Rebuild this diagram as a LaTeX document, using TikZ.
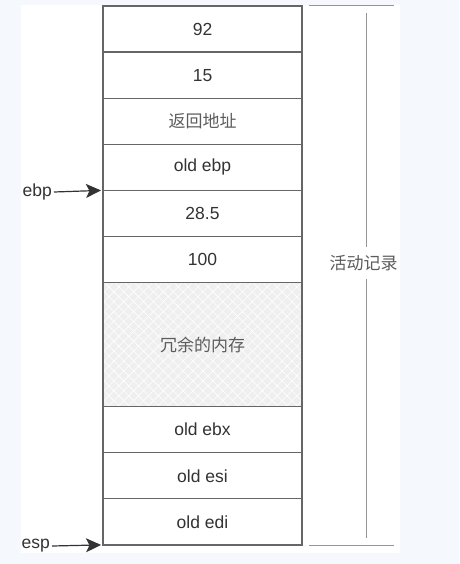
\documentclass[tikz,border=0pt]{standalone}
\usepackage{fontspec}
\setmainfont{Liberation Sans}
\newfontfamily\cjk{Noto Sans CJK SC}
\usetikzlibrary{positioning,arrows.meta,patterns.meta}
\definecolor{pagebg}{HTML}{F5F9FD}
\definecolor{cellline}{HTML}{666666}
\definecolor{celltext}{HTML}{333333}
\definecolor{spare}{HTML}{EFEFEF}
\begin{document}
\begin{tikzpicture}[x=1pt, y=-1pt, node distance=0pt,
  cell/.style = {draw=cellline, line width=1.2pt, fill=white, outer sep=0pt,
    minimum width=199pt, minimum height=46.1pt, text=celltext,
    font=\fontsize{17.5}{20}\selectfont},
  cjkcell/.style = {cell, text=celltext!80, font=\fontsize{17}{20}\selectfont\cjk},
  sparecell/.style = {cjkcell, minimum height=124pt, fill=none,
    preaction={fill=spare},
    preaction={pattern={Lines[angle=45,distance=7pt,line width=0.6pt]}, pattern color=white},
    preaction={pattern={Lines[angle=-45,distance=7pt,line width=0.6pt]}, pattern color=white}},
  reg/.style = {text=celltext, font=\fontsize{17.5}{20}\selectfont, inner sep=0pt},
  ptr/.style = {-{Stealth[length=15pt,width=14pt,inset=3.5pt]}, line width=1.2pt, draw=celltext},
  brace/.style = {draw=cellline!70, line width=1pt}]
\useasboundingbox (0,0) rectangle (459,564);
\fill[pagebg] (0,0) rectangle (459,564);
\fill[white] (21,5) rectangle (400,553);
% stack frame
\node[cell, anchor=north] (arg2) at (202.5,6) {92};
\node[cell] (arg1) [below=of arg2] {15};
\node[cjkcell] (ret) [below=of arg1] {返回地址};
\node[cell] (oldebp) [below=of ret] {old ebp};
\node[cell] (loc1) [below=of oldebp] {28.5};
\node[cell] (loc2) [below=of loc1] {100};
\node[sparecell] (spare) [below=of loc2] {冗余的内存};
\node[cell] (oldebx) [below=of spare] {old ebx};
\node[cell] (oldesi) [below=of oldebx] {old esi};
\node[cell] (oldedi) [below=of oldesi] {old edi};
% pointers
\node[reg, anchor=east] (ebp) at (52,192) {ebp};
\node[reg, anchor=east] (esp) at (50,546) {esp};
\draw[ptr] ([xshift=2pt]ebp.east) -- ([xshift=-2pt]oldebp.south west);
\draw[ptr] ([xshift=2pt]esp.east) -- ([xshift=-2pt]oldedi.south west);
% activation record bracket
\coordinate (top) at (366,6);
\coordinate (bot) at (366,545);
\draw[brace] (309,6) -- (394,6);
\draw[brace] (309,545) -- (394,545);
\draw[brace] ([yshift=-7pt]top) -- ([yshift=7pt]bot);
\node[fill=white, text=celltext!80, font=\fontsize{17}{20}\selectfont\cjk,
  inner xsep=0pt, inner ysep=8pt] (frame) at (363.5,263) {活动记录};
\end{tikzpicture}
\end{document}
